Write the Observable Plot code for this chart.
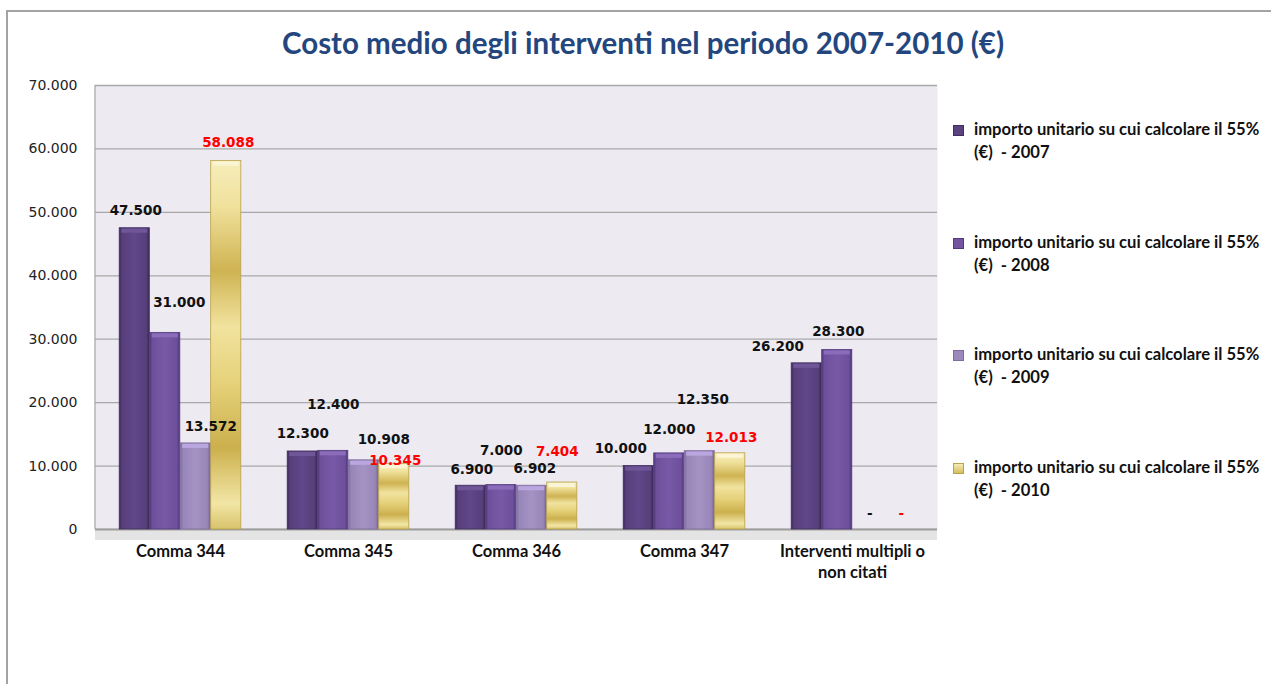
<!DOCTYPE html>
<html>
<head>
<meta charset="utf-8">
<script src="https://cdn.jsdelivr.net/npm/d3@7"></script>
<script src="https://cdn.jsdelivr.net/npm/@observablehq/plot@0.6"></script>
<style>
  html, body { margin: 0; padding: 0; background: #fff; overflow: hidden; }
  #wrap { position: relative; width: 1271px; height: 684px; }
  #frameBorder { position: absolute; left: 6px; top: 10px; width: 1300px; height: 700px;
    border-left: 2px solid #a3a3a3; border-top: 2px solid #a3a3a3; pointer-events: none; }
  #title { position: absolute; left: 0; top: 25px; width: 1286px; text-align: center;
    font-family: Lato, "Open Sans", sans-serif; font-weight: bold; font-size: 29.5px; color: #24467e; }
  #legend { position: absolute; left: 953px; top: 118px; font-family: Lato, "Open Sans", sans-serif;
    font-weight: bold; font-size: 16.6px; color: #111; }
  .item { position: relative; height: 112.5px; }
  .sw { position: absolute; left: 0; top: 7px; width: 9px; height: 9px; }
  .txt { position: absolute; left: 21px; top: 0; line-height: 23px; white-space: nowrap; }
  #chart { position: absolute; left: 0; top: 0; }
</style>
</head>
<body>
<div id="wrap">
  <div id="chart"></div>
  <div id="title">Costo medio degli interventi nel periodo 2007-2010 (€)</div>
  <div id="legend"></div>
  <div id="frameBorder"></div>
</div>
<script>
// ---- data ----
const categories = ["Comma 344", "Comma 345", "Comma 346", "Comma 347", "Interventi multipli o\nnon citati"];
const years = ["2007", "2008", "2009", "2010"];
const seriesPrefix = "importo unitario su cui calcolare il 55%";
const v2007 = [47500, 12300, 6900, 10000, 26200];
const v2008 = [31000, 12400, 7000, 12000, 28300];
const v2009 = [13572, 10908, 6902, 12350, 0];
const v2010 = [58088, 10345, 7404, 12013, 0];
const yTicks = [0, 10000, 20000, 30000, 40000, 50000, 60000, 70000];

// label nudges (pixels) relative to the top-centre of each bar, per series then category
const labelNudge = [
  [[1, -18], [0, -18], [1, -16], [-18, -17], [-29, -17]],
  [[14, -30], [0, -46], [0, -34], [0, -24], [1, -18]],
  [[15, -17], [20, -21], [3, -17], [3, -51], [2, -16]],
  [[2, -18], [1, -3], [-5, -31], [1, -16], [3, -16]]
];

// ---- styles ----
const swatch = ["#5a437f", "#7254a0", "#9c89bb", "#e6d47e"];
const capColor = ["#6f5698", "#8a6cba", "#bba7df", "#fbf5d6"];
const edgeColor = ["#3f2d5c", "#54397e", "#7e6ba0", "#b8a24a"];
const labelColor = ["#111", "#111", "#111", "#ff0000"];

const values = [v2007, v2008, v2009, v2010];
const rows = [];
years.forEach((y, j) => categories.forEach((c, i) => rows.push({category: c, year: y, j, i, value: values[j][i]})));

const fmt = d3.formatLocale({decimal: ",", thousands: ".", grouping: [3], currency: ["€", ""]}).format(",d");

const W = 1271, H = 684, ML = 95, MR = 334, MT = 85, MB = 155;
const band = (W - ML - MR) / categories.length;
const BW = 30.5;
const INSET = (band - BW) / 2;

const marks = [
  Plot.frame({fill: "#edeaf1", stroke: "none"}),
  Plot.ruleY(yTicks, {stroke: "#a8a8a8", strokeWidth: 1.3}),
  Plot.ruleY([0], {stroke: "#e4e4e4", strokeWidth: 9, dy: 6}),
  Plot.ruleY([0], {stroke: "#9c9c9c", strokeWidth: 2})
];

years.forEach((y, j) => {
  const data = rows.filter(r => r.j === j);
  const dx = (j - 1.5) * BW;
  marks.push(Plot.barY(data, {x: "category", y: "value", fill: `url(#grad${j})`, stroke: edgeColor[j], strokeWidth: 0.8,
    dx, insetLeft: INSET, insetRight: INSET}));
  marks.push(Plot.tickY(data.filter(d => d.value > 0), {x: "category", y: "value", dy: 2.5, dx,
    insetLeft: INSET + 2, insetRight: INSET + 2, stroke: capColor[j], strokeWidth: 4}));
});

rows.forEach(r => {
  const [ndx, ndy] = labelNudge[r.j][r.i];
  marks.push(Plot.text([r], {x: "category", y: "value", text: d => d.value === 0 ? "-" : fmt(d.value),
    dx: (r.j - 1.5) * BW + ndx, dy: ndy, fill: labelColor[r.j],
    fontFamily: "DejaVu Sans", fontWeight: "bold", fontSize: 13.5}));
});

marks.push(Plot.text(categories, {x: d => d, text: d => d, frameAnchor: "bottom", lineAnchor: "top", dy: 13,
  lineHeight: 1.25, fontFamily: "Lato", fontWeight: "bold", fontSize: 16.5, fill: "#111"}));

const svg = Plot.plot({
  width: W, height: H,
  marginLeft: ML, marginRight: MR, marginTop: MT, marginBottom: MB,
  style: {background: "transparent", fontFamily: "DejaVu Sans", fontSize: "14px", color: "#222"},
  x: {domain: categories, padding: 0, axis: null},
  y: {domain: [0, 70000], ticks: yTicks, tickFormat: d => fmt(d), tickSize: 0, tickPadding: 18, label: null},
  marks
});

// gradients
const s = d3.select(svg);
const defs = s.insert("defs", ":first-child");
const hStops = [
  [["0", "#3f2d5c"], ["0.1", "#563f7a"], ["0.5", "#60488a"], ["0.9", "#563f7a"], ["1", "#3a2955"]],
  [["0", "#553a7f"], ["0.1", "#6d509b"], ["0.5", "#7859a8"], ["0.9", "#6d509b"], ["1", "#4f3676"]],
  [["0", "#7f6ca1"], ["0.1", "#9886b8"], ["0.5", "#a593c4"], ["0.9", "#9886b8"], ["1", "#776598"]]
];
hStops.forEach((st, j) => {
  const g = defs.append("linearGradient").attr("id", `grad${j}`).attr("x1", 0).attr("x2", 1).attr("y1", 0).attr("y2", 0);
  st.forEach(([o, c]) => g.append("stop").attr("offset", o).attr("stop-color", c));
});
const gold = defs.append("linearGradient").attr("id", "grad3").attr("x1", 0).attr("x2", 0).attr("y1", 0).attr("y2", 1);
[["0", "#f6edbb"], ["0.12", "#f0e29d"], ["0.3", "#cfb352"], ["0.45", "#f1e39f"], ["0.6", "#e6d27b"],
 ["0.78", "#ccb04d"], ["0.93", "#f2e6a6"], ["1", "#d8c36b"]]
  .forEach(([o, c]) => gold.append("stop").attr("offset", o).attr("stop-color", c));

// left border of plot area
s.append("line").attr("x1", ML).attr("x2", ML).attr("y1", MT).attr("y2", H - MB)
  .attr("stroke", "#a8a8a8").attr("stroke-width", 1.3);

document.getElementById("chart").appendChild(svg);

// legend
const legend = d3.select("#legend");
years.forEach((y, j) => {
  const it = legend.append("div").attr("class", "item");
  it.append("div").attr("class", "sw")
    .style("background", j === 3 ? "linear-gradient(#f5ebb5, #d6be5e)" : swatch[j])
    .style("border", `1px solid ${edgeColor[j]}`);
  it.append("div").attr("class", "txt").html(`${seriesPrefix}<br>(€)&nbsp; - ${y}`);
});
</script>
</body>
</html>
